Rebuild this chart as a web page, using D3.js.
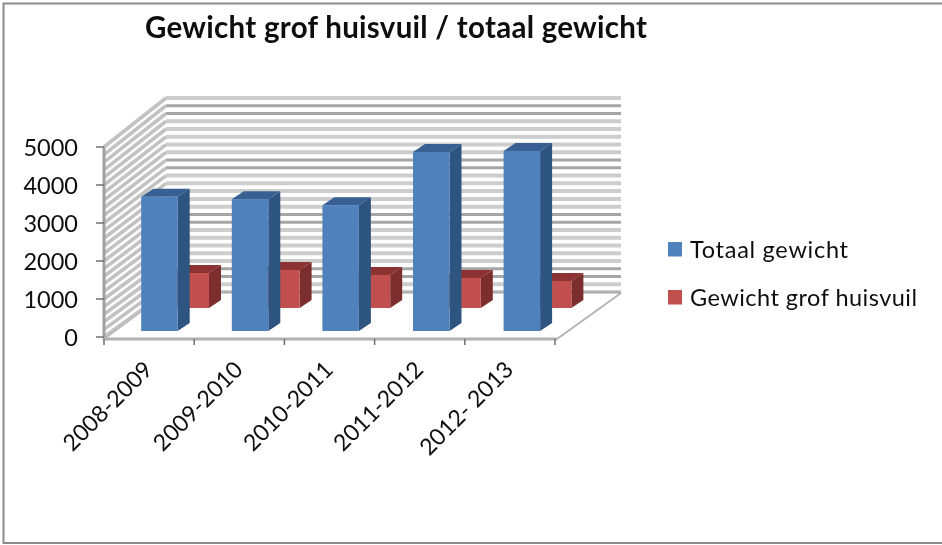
<!DOCTYPE html>
<html><head><meta charset="utf-8">
<script src="https://cdn.jsdelivr.net/npm/d3@7"></script>
<style>html,body{margin:0;padding:0;background:#fff}svg{display:block}text{font-family:Lato,"Open Sans",sans-serif;fill:#111}</style>
</head><body><svg id="c" width="942" height="545"></svg>
<script>
const categories = ["2008-2009","2009-2010","2010-2011","2011-2012","2012- 2013"];
const totaalGewicht = [3530,3470,3310,4710,4740];
const grofHuisvuil = [920,1000,870,790,710];
const yTicks = [0,1000,2000,3000,4000,5000];
const gridValues = d3.range(0,5001,200);
const seriesNames = ["Totaal gewicht","Gewicht grof huisvuil"];
const titleText = "Gewicht grof huisvuil / totaal gewicht";

const svg = d3.select("#c");
const defs = svg.append("defs");
defs.append("filter").attr("id","soft").attr("filterUnits","userSpaceOnUse").attr("x",0).attr("y",0).attr("width",942).attr("height",545)
  .append("feGaussianBlur").attr("stdDeviation",0.7);
defs.append("filter").attr("id","softT").attr("filterUnits","userSpaceOnUse").attr("x",0).attr("y",0).attr("width",942).attr("height",545)
  .append("feGaussianBlur").attr("stdDeviation",0.35);

svg.append("path").attr("d","M944,3.5H3.5V543H944").attr("fill","none").attr("stroke","#8c8c8c").attr("stroke-width",2);

const y = d3.scaleLinear().domain([0,5000]).range([337,147]);
const yBack = d3.scaleLinear().domain([0,5000]).range([292,98]);
const xTick = d3.scaleLinear().domain([0,5]).range([104,555]);
const x = d3.scaleBand().domain(categories).range([104,557]);

const plot = svg.append("g").attr("filter","url(#soft)");
// back wall
plot.selectAll(".bw").data(gridValues).join("line")
  .attr("x1",166).attr("x2",621).attr("y1",d=>yBack(d)).attr("y2",d=>yBack(d))
  .attr("stroke",(d,i)=>(i%7===2||i%7===3)?"#a6a6a6":"#cdcdcd")
  .attr("stroke-width",(d,i)=>(i%7===2||i%7===3)?3:4);
// side wall
plot.selectAll(".sw").data(gridValues).join("line")
  .attr("x1",104).attr("x2",166).attr("y1",d=>y(d)).attr("y2",d=>yBack(d))
  .attr("stroke","#c2c2c2").attr("stroke-width",3.6);
// floor
plot.append("polygon").attr("points","107,339 557,339 621,293 166,293").attr("fill","#fff");
plot.append("line").attr("x1",166).attr("x2",621).attr("y1",292.5).attr("y2",292.5).attr("stroke","#a8a8a8").attr("stroke-width",2);
plot.append("line").attr("x1",557).attr("x2",621).attr("y1",339).attr("y2",293).attr("stroke","#b4b4b4").attr("stroke-width",2);
plot.append("line").attr("x1",104).attr("x2",166).attr("y1",339).attr("y2",293).attr("stroke","#bcbcbc").attr("stroke-width",2);
// axes
plot.append("line").attr("x1",104).attr("x2",104).attr("y1",147).attr("y2",339).attr("stroke","#a0a0a0").attr("stroke-width",3);
plot.append("line").attr("x1",103).attr("x2",557).attr("y1",339).attr("y2",339).attr("stroke","#b0b0b0").attr("stroke-width",3);
plot.selectAll(".yt").data(yTicks).join("line")
  .attr("x1",96).attr("x2",104).attr("y1",d=>y(d)).attr("y2",d=>y(d)).attr("stroke","#707070").attr("stroke-width",1.5);
plot.selectAll(".xt").data(d3.range(0,6)).join("line")
  .attr("x1",d=>xTick(d)).attr("x2",d=>xTick(d)).attr("y1",339).attr("y2",345).attr("stroke","#707070").attr("stroke-width",1.5);

function bars(vals, off, base, front, top, side){
  const w = 36.5, dx = 12, dy = 8;
  const g = plot.append("g");
  categories.forEach((c,i)=>{
    const x0 = x(c)+off, h = y(0)-y(vals[i]), b = base, t = b-h;
    g.append("polygon").attr("points",[[x0,t],[x0+w,t],[x0+w+dx,t-dy],[x0+dx,t-dy]].join(" ")).attr("fill",top);
    g.append("polygon").attr("points",[[x0+w,t],[x0+w+dx,t-dy],[x0+w+dx,b-dy],[x0+w,b]].join(" ")).attr("fill",side);
    g.append("rect").attr("x",x0).attr("y",t).attr("width",w).attr("height",h).attr("fill",front);
  });
}
bars(grofHuisvuil, 68.5, 308, "#c0504d", "#8c3331", "#7c2f2d");
bars(totaalGewicht, 37.2, 331, "#4f81bd", "#376092", "#2f5480");

const txt = svg.append("g").attr("filter","url(#softT)");
txt.append("text").attr("x",145).attr("y",38).attr("font-size",29.5).attr("font-weight",700)
  .attr("textLength",502).attr("lengthAdjust","spacing").text(titleText);
txt.selectAll(".yl").data(yTicks).join("text")
  .attr("x",78).attr("y",d=>y(d)+9).attr("text-anchor","end").attr("font-size",23.5).text(d=>d);
txt.selectAll(".xl").data(categories).join("text")
  .attr("text-anchor","end").attr("font-size",23)
  .attr("transform",(d,i)=>`translate(${xTick(i)+50},${371}) rotate(-45)`).text(d=>d);
const sw = [242,290];
svg.selectAll(".ls").data(seriesNames).join("rect")
  .attr("x",668).attr("y",(d,i)=>sw[i]).attr("width",14).attr("height",14.5)
  .attr("fill",(d,i)=>["#4f81bd","#c0504d"][i]);
const tl = [158,227];
txt.selectAll(".lt").data(seriesNames).join("text")
  .attr("x",690).attr("y",(d,i)=>sw[i]+16).attr("font-size",23.5)
  .attr("textLength",(d,i)=>tl[i]).attr("lengthAdjust","spacing").text(d=>d);
</script></body></html>
